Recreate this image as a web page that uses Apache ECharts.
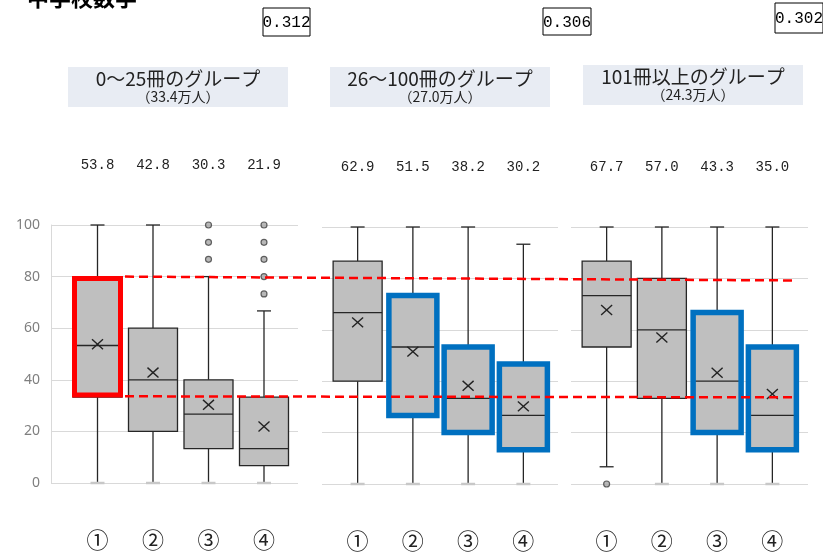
<!DOCTYPE html>
<html>
<head>
<meta charset="utf-8">
<script src="https://cdn.jsdelivr.net/npm/echarts@6/dist/echarts.min.js"></script>
<style>
  html, body { margin: 0; padding: 0; background: #fff; }
  #main { width: 823px; height: 552px; }
</style>
</head>
<body>
<div id="main"></div>
<script>
// カテゴリ
var cats = ['①', '②', '③', '④'];

// 0～25冊のグループ
var g1Min = [0, 0, 0, 0];
var g1Q1 = [33.3, 20, 13.3, 6.7];
var g1Med = [53.3, 40, 26.7, 13.3];
var g1Q3 = [80, 60, 40, 33.3];
var g1Max = [100, 100, 80, 66.7];
var g1Mean = [53.8, 42.8, 30.3, 21.9];
var g1Out = [[2, 86.7], [2, 93.3], [2, 100], [3, 73.3], [3, 80], [3, 86.7], [3, 93.3], [3, 100]];
var g1Hl = [1, 0, 0, 0];

// 26～100冊のグループ
var g2Min = [0, 0, 0, 0];
var g2Q1 = [40, 26.7, 20, 13.3];
var g2Med = [66.7, 53.3, 33.3, 26.7];
var g2Q3 = [86.7, 73.3, 53.3, 46.7];
var g2Max = [100, 100, 100, 93.3];
var g2Mean = [62.9, 51.5, 38.2, 30.2];
var g2Out = [];
var g2Hl = [0, 2, 2, 2];

// 101冊以上のグループ
var g3Min = [6.7, 0, 0, 0];
var g3Q1 = [53.3, 33.3, 20, 13.3];
var g3Med = [73.3, 60, 40, 26.7];
var g3Q3 = [86.7, 80, 66.7, 53.3];
var g3Max = [100, 100, 100, 100];
var g3Mean = [67.7, 57.0, 43.3, 35.0];
var g3Out = [[0, 0]];
var g3Hl = [0, 0, 2, 2];

var groupNames = ['0～25冊のグループ', '26～100冊のグループ', '101冊以上のグループ'];
var groupCounts = ['（33.4万人）', '（27.0万人）', '（24.3万人）'];
var coefs = ['0.312', '0.306', '0.302'];

// 赤の点線
var refX = [0, 1];
var upperRef = [80, 78.5];
var lowerRef = [33.6, 33.2];

var myChart = echarts.init(document.getElementById('main'));

function boxData(mn, q1, md, q3, mx, mean, hl) {
	return cats.map(function(c, i) {
		return [i, mn[i], q1[i], md[i], q3[i], mx[i], mean[i], hl[i]];
	});
}

var hlStyle = {
	1: { color: '#FF0000', w: 46, lw: 5, inset: 2 },
	2: { color: '#0070C0', w: 48, lw: 5.5, inset: 0 }
};

function renderBox(params, api) {
	var i = api.value(0);
	var cx = api.coord([i, 0])[0];
	var yMin = api.coord([i, api.value(1)])[1];
	var yQ1 = api.coord([i, api.value(2)])[1];
	var yMed = api.coord([i, api.value(3)])[1];
	var yQ3 = api.coord([i, api.value(4)])[1];
	var yMax = api.coord([i, api.value(5)])[1];
	var yMean = api.coord([i, api.value(6)])[1];
	var hl = api.value(7);
	var hw = 24.5, cap = 7, mk = 5.5;
	var ln = { stroke: '#262626', lineWidth: 1.3 };
	var minCap = api.value(1) <= 0 ? { stroke: '#C8C8C8', lineWidth: 2.5 } : ln;
	var ch = [
		{ type: 'line', shape: { x1: cx, y1: yMax, x2: cx, y2: yQ3 }, style: ln },
		{ type: 'line', shape: { x1: cx, y1: yQ1, x2: cx, y2: yMin }, style: ln },
		{ type: 'line', shape: { x1: cx - cap, y1: yMax, x2: cx + cap, y2: yMax }, style: ln },
		{ type: 'line', shape: { x1: cx - cap, y1: yMin, x2: cx + cap, y2: yMin }, style: minCap },
		{ type: 'rect', shape: { x: cx - hw, y: yQ3, width: hw * 2, height: yQ1 - yQ3 },
			style: { fill: '#BFBFBF', stroke: '#262626', lineWidth: 1.3 } },
		{ type: 'line', shape: { x1: cx - hw, y1: yMed, x2: cx + hw, y2: yMed }, style: ln },
		{ type: 'line', shape: { x1: cx - mk, y1: yMean - mk * 0.9, x2: cx + mk, y2: yMean + mk * 0.9 }, style: { stroke: '#222', lineWidth: 1.4 } },
		{ type: 'line', shape: { x1: cx + mk, y1: yMean - mk * 0.9, x2: cx - mk, y2: yMean + mk * 0.9 }, style: { stroke: '#222', lineWidth: 1.4 } }
	];
	if (hl) {
		var s = hlStyle[hl];
		ch.push({
			type: 'rect',
			shape: { x: cx - s.w / 2, y: yQ3 + s.inset, width: s.w, height: yQ1 - yQ3 - s.inset * 2 },
			style: { fill: 'none', stroke: s.color, lineWidth: s.lw }
		});
	}
	return { type: 'group', children: ch };
}

var glGrids = [
	{ left: 51, top: 225, width: 247, height: 258 },
	{ left: 322, top: 227, width: 236, height: 257 },
	{ left: 571, top: 227, width: 237, height: 257 }
];
var boxGrids = [
	{ left: 69.75, top: 225, width: 222, height: 258 },
	{ left: 330, top: 227, width: 221, height: 257 },
	{ left: 579, top: 227, width: 221, height: 257 }
];
var groups = [
	{ data: boxData(g1Min, g1Q1, g1Med, g1Q3, g1Max, g1Mean, g1Hl), out: g1Out, mean: g1Mean },
	{ data: boxData(g2Min, g2Q1, g2Med, g2Q3, g2Max, g2Mean, g2Hl), out: g2Out, mean: g2Mean },
	{ data: boxData(g3Min, g3Q1, g3Med, g3Q3, g3Max, g3Mean, g3Hl), out: g3Out, mean: g3Mean }
];

var grid = [], xAxis = [], yAxis = [], series = [];

glGrids.forEach(function(g, k) {
	grid.push(g);
	xAxis.push({ type: 'value', gridIndex: k, min: 0, max: 1, show: false });
	yAxis.push({
		type: 'value', gridIndex: k, min: 0, max: 100, interval: 20,
		axisLine: { show: k == 0, lineStyle: { color: '#D9D9D9' } },
		axisTick: { show: false },
		axisLabel: { show: k == 0, color: '#7F7F7F', fontSize: 14, fontFamily: 'Noto Sans', margin: 11 },
		splitLine: { lineStyle: { color: '#D9D9D9', width: 1 } }
	});
});

boxGrids.forEach(function(g, k) {
	grid.push(g);
});
// 下のカテゴリ軸
boxGrids.forEach(function(g, k) {
	xAxis.push({
		type: 'category', gridIndex: 3 + k, data: cats, position: 'bottom',
		axisLine: { show: false }, axisTick: { show: false },
		axisLabel: { color: '#222', fontSize: 22, fontFamily: 'Noto Sans CJK JP', margin: 46 }
	});
	yAxis.push({ type: 'value', gridIndex: 3 + k, min: 0, max: 100, show: false });
});
// 上の平均値ラベル
boxGrids.forEach(function(g, k) {
	xAxis.push({
		type: 'category', gridIndex: 3 + k, position: 'top',
		data: groups[k].mean.map(function(v) { return v.toFixed(1); }),
		axisLine: { show: false }, axisTick: { show: false },
		axisLabel: { color: '#222', fontSize: 14, fontFamily: 'Liberation Mono', margin: 53 }
	});
});

groups.forEach(function(gr, k) {
	series.push({
		type: 'custom', xAxisIndex: 3 + k, yAxisIndex: 3 + k, z: 3,
		renderItem: renderBox, data: gr.data
	});
	series.push({
		type: 'scatter', xAxisIndex: 3 + k, yAxisIndex: 3 + k, z: 4,
		symbol: 'circle', symbolSize: 6,
		itemStyle: { color: '#A6A6A6', borderColor: '#404040', borderWidth: 1.2 },
		data: gr.out
	});
});

// 赤点線用
grid.push({ left: 125, top: 225, width: 670, height: 258 });
xAxis.push({ type: 'value', gridIndex: 6, min: 0, max: 1, show: false });
yAxis.push({ type: 'value', gridIndex: 6, min: 0, max: 100, show: false });
[upperRef, lowerRef].forEach(function(ref) {
	series.push({
		type: 'line', xAxisIndex: 9, yAxisIndex: 6, z: 10, symbol: 'none',
		lineStyle: { color: '#FF0000', width: 2.5, type: [9, 5] },
		data: refX.map(function(x, i) { return [x, ref[i]]; })
	});
});

// 見出し
var hdr = [
	{ x: 68, y: 67 },
	{ x: 330, y: 67 },
	{ x: 583, y: 65 }
];
var coefBox = [
	{ x: 263, y: 8, w: 47, h: 28 },
	{ x: 543, y: 8, w: 48, h: 27 },
	{ x: 775, y: 3, w: 48, h: 30 }
];
var elements = [{
	type: 'text', x: 27, y: 9,
	style: { text: '中学校数学', font: 'bold 22px "Noto Sans CJK JP"', fill: '#000', textVerticalAlign: 'bottom' }
}];
hdr.forEach(function(h, k) {
	elements.push({ type: 'rect', shape: { x: h.x, y: h.y, width: 220, height: 40 }, style: { fill: '#E8ECF3' } });
	elements.push({
		type: 'text', x: h.x + 110, y: h.y + 12,
		style: { text: groupNames[k], font: '19px "Noto Sans CJK JP"', fill: '#222', textAlign: 'center', textVerticalAlign: 'middle' }
	});
	elements.push({
		type: 'text', x: h.x + 110, y: h.y + 30,
		style: { text: groupCounts[k], font: '14px "Noto Sans CJK JP"', fill: '#222', textAlign: 'center', textVerticalAlign: 'middle' }
	});
});
coefBox.forEach(function(b, k) {
	elements.push({ type: 'rect', shape: { x: b.x, y: b.y, width: b.w, height: b.h }, style: { fill: '#fff', stroke: '#000', lineWidth: 1 } });
	elements.push({
		type: 'text', x: b.x + b.w / 2, y: b.y + b.h / 2 + 1,
		style: { text: coefs[k], font: '16px "Liberation Mono"', fill: '#000', textAlign: 'center', textVerticalAlign: 'middle' }
	});
});

var option = {
	animation: false,
	backgroundColor: '#fff',
	grid: grid,
	xAxis: xAxis,
	yAxis: yAxis,
	series: series,
	graphic: { elements: elements }
};
myChart.setOption(option);
</script>
</body>
</html>
